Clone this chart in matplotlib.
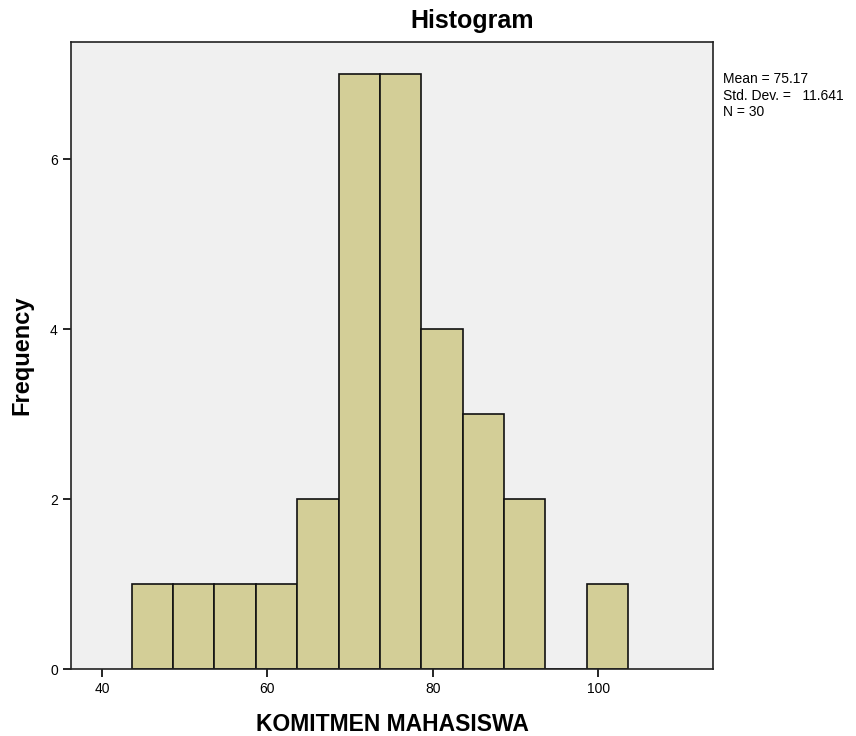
import matplotlib
matplotlib.use('Agg')
import matplotlib.pyplot as plt

plt.rcParams['font.family'] = ['Liberation Sans', 'DejaVu Sans']

# histogram bins (width 5)
bin_left = [43.6, 48.6, 53.6, 58.6, 63.6, 68.6, 73.6, 78.6, 83.6, 88.6, 93.6, 98.6]
counts = [1, 1, 1, 1, 2, 7, 7, 4, 3, 2, 0, 1]
bin_width = 5

x_ticks = [40, 60, 80, 100]
y_ticks = [0, 2, 4, 6]
stats_text = "Mean = 75.17\nStd. Dev. =   11.641\nN = 30"

fig = plt.figure(figsize=(8.56, 7.36), dpi=100)
ax = fig.add_axes([0.083, 0.091, 0.750, 0.852])
ax.set_facecolor('#f0f0f0')

ax.bar(bin_left, counts, width=bin_width, align='edge',
       color='#d3ce97', edgecolor='#111111', linewidth=1.2, zorder=2)

ax.set_xlim(36.25, 113.9)
ax.set_ylim(0, 7.38)
ax.set_xticks(x_ticks)
ax.set_yticks(y_ticks)
ax.tick_params(direction='out', length=6, width=1.2, labelsize=10, colors='black')

for s in ax.spines.values():
    s.set_linewidth(1.2)
    s.set_color('#222222')

# title sits right of the axes centre, as in the SPSS output
ax.set_title('Histogram', fontsize=18, fontweight='bold', pad=10, x=0.625)
ax.set_xlabel('KOMITMEN MAHASISWA', fontsize=16.5, fontweight='bold', labelpad=12)
ax.set_ylabel('Frequency', fontsize=17, fontweight='bold', labelpad=12)

fig.text(0.845, 0.902, stats_text, fontsize=10, va='top', ha='left', linespacing=1.22)

fig.savefig('out.png', dpi=100)
